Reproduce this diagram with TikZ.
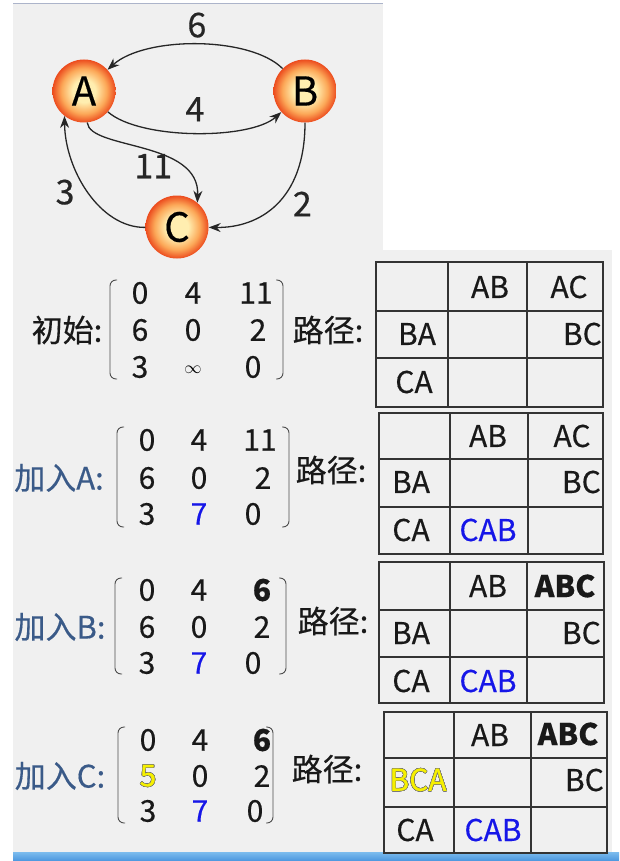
\documentclass[tikz,border=0pt]{standalone}
\usepackage{fontspec}
\setmainfont{Noto Sans CJK SC}[FakeBold=0.4]
\usepackage[copies]{contour}
\usetikzlibrary{calc,positioning,arrows.meta}

\definecolor{bggray}{RGB}{240,240,240}
\definecolor{topline}{RGB}{172,180,202}
\definecolor{tagblue}{RGB}{58,90,136}
\definecolor{numblue}{RGB}{22,22,232}
\definecolor{numyellow}{RGB}{246,240,0}
\definecolor{orbin}{RGB}{255,238,176}
\definecolor{orbmid}{RGB}{252,168,88}
\definecolor{orbout}{RGB}{236,76,30}
\definecolor{barlight}{RGB}{124,188,238}
\definecolor{bardark}{RGB}{74,150,222}
\contourlength{0.5pt}

\pgfdeclareradialshading{orb}{\pgfpoint{0bp}{0bp}}{color(0bp)=(orbin); color(9bp)=(orbin); color(18bp)=(orbmid); color(25bp)=(orbout); color(50bp)=(orbout)}

\tikzset{
  ball/.style={circle,minimum size=63pt,inner sep=0pt,shading=orb,font=\fontsize{40}{40}\selectfont},
  edge/.style={-{Stealth[length=12pt,width=9pt]},line width=1.3pt,black!85},
  wt/.style={inner sep=0pt,font=\fontsize{34}{34}\selectfont},
  num/.style={inner sep=0pt,text=black!90,font=\fontsize{30}{30}\selectfont},
  cell/.style={inner sep=0pt,text=black!90,font=\fontsize{30}{30}\selectfont},
  tag/.style={inner sep=0pt,text=tagblue,font=\fontsize{31}{31}\selectfont},
  brk/.style={line width=0.9pt,black!70,rounded corners=6pt},
  grid/.style={line width=1.3pt,black!80},
}

\begin{document}
\begin{tikzpicture}[x=1pt,y=-1pt]
    \useasboundingbox (0,0) rectangle (619,861);
    % background
    \fill[white] (0,0) rectangle (619,861);
    \fill[bggray] (13,3) rectangle (383,250);
    \fill[bggray] (13,250) rectangle (612,852);
    \draw[topline,line width=1pt] (13,3.5) -- (383,3.5);
    \shade[top color=barlight,bottom color=bardark] (13,852) rectangle (619,861);
    %
    % graph
    \node[ball] (A) at (84,91) {A};
    \node[ball] (B) at (305,91) {B};
    \node[ball] (C) at (177,227) {C};
    \draw[edge] (B) .. controls (250,36) and (145,36) .. (A) node[wt,midway,above=6pt] (w6) {6};
    \draw[edge] (A) .. controls (140,140) and (250,140) .. (B) node[wt,midway,above=11pt] (w4) {4};
    \draw[edge] (A) .. controls (90,150) and (200,140) .. (C.50) node[wt,midway,below=4pt,xshift=9pt] (w11) {11};
    \draw[edge] (B) .. controls (305,200) and (260,228) .. (C) node[wt,pos=0.45,right=11pt,yshift=-5pt] (w2) {2};
    \draw[edge] (C) .. controls (100,228) and (65,170) .. (A.232) node[wt,midway,left=13pt] (w3) {3};
    %
    % 初始
    \node[tag,text=black!90] (g1) at (67,330) {初始:};
    \foreach \v/\x/\y [count=\i] in {0/140/293, 4/193/293, 11/256/293, 6/140/330, 0/193/330, 2/258/330, 3/140/367, 0/253/367}
        \node[num] (m1-\i) at (\x,\y) {\v};
    \node[inner sep=0pt,font=\fontsize{17}{17}\selectfont] (m1-inf) at (193,370) {$\infty$};
    \draw[brk] (117,280) -- (110,280) -- (110,379) -- (117,379);
    \draw[brk] (276,280) -- (283,280) -- (283,379) -- (276,379);
    \node[tag,text=black!90] (p1) at (328,330) {路径:};
    \draw[grid] (376,262) rectangle (603,407);
    \draw[grid] (448,262) -- (448,407) (527,262) -- (527,407) (376,311) -- (603,311) (376,358) -- (603,358);
    \node[cell] (t1-ab) at (490,287) {AB};
    \node[cell] (t1-ac) at (569,287) {AC};
    \node[cell] (t1-ba) at (417,334) {BA};
    \node[cell,anchor=east] (t1-bc) at (602,334) {BC};
    \node[cell] (t1-ca) at (414,382) {CA};
    %
    % 加入A
    \node[tag] (g2) at (59,478) {加入A:};
    \foreach \v/\x/\y [count=\i] in {0/147/440, 4/199/440, 11/260/440, 6/147/478, 0/199/478, 2/263/478, 3/147/514, {\textcolor{numblue}{7}}/199/514, 0/253/514}
        \node[num] (m2-\i) at (\x,\y) {\v};
    \draw[brk] (124,427) -- (117,427) -- (117,527) -- (124,527);
    \draw[brk] (282,427) -- (289,427) -- (289,527) -- (282,527);
    \node[tag,text=black!90] (p2) at (331,470) {路径:};
    \draw[grid] (379,413) rectangle (603,554);
    \draw[grid] (450,413) -- (450,554) (528,413) -- (528,554) (379,459) -- (603,459) (379,507) -- (603,507);
    \node[cell] (t2-ab) at (488,436) {AB};
    \node[cell] (t2-ac) at (572,436) {AC};
    \node[cell] (t2-ba) at (411,482) {BA};
    \node[cell,anchor=east] (t2-bc) at (601,482) {BC};
    \node[cell] (t2-ca) at (411,530) {CA};
    \node[cell,text=numblue] (t2-cab) at (488,530) {CAB};
    %
    % 加入B
    \node[tag] (g3) at (60,627) {加入B:};
    \foreach \v/\x/\y [count=\i] in {0/147/590, 4/199/590, {\bfseries 6}/262/590, 6/147/627, 0/199/627, 2/262/627, 3/147/663, {\textcolor{numblue}{7}}/199/663, 0/253/663}
        \node[num] (m3-\i) at (\x,\y) {\v};
    \draw[brk] (122,578) -- (115,578) -- (115,674) -- (122,674);
    \draw[brk] (279,578) -- (286,578) -- (286,674) -- (279,674);
    \node[tag,text=black!90] (p3) at (333,621) {路径:};
    \draw[grid] (379,562) rectangle (604,703);
    \draw[grid] (450,562) -- (450,703) (527,562) -- (527,703) (379,610) -- (604,610) (379,657) -- (604,657);
    \node[cell] (t3-ab) at (488,586) {AB};
    \node[cell,font=\fontsize{30}{30}\selectfont\bfseries] (t3-abc) at (565,586) {ABC};
    \node[cell] (t3-ba) at (411,633) {BA};
    \node[cell,anchor=east] (t3-bc) at (601,633) {BC};
    \node[cell] (t3-ca) at (411,681) {CA};
    \node[cell,text=numblue] (t3-cab) at (488,681) {CAB};
    %
    % 加入C
    \node[tag] (g4) at (60,776) {加入C:};
    \foreach \v/\x/\y [count=\i] in {0/148/740, 4/200/740, {\bfseries 6}/262/740, {\textcolor{numyellow}{\contour{black!55}{5}}}/148/776, 0/200/776, 2/262/776, 3/148/811, {\textcolor{numblue}{7}}/200/811, 0/255/811}
        \node[num] (m4-\i) at (\x,\y) {\v};
    \draw[brk] (125,727) -- (118,727) -- (118,823) -- (125,823);
    \draw[brk] (266,727) -- (273,727) -- (273,823) -- (266,823);
    \node[tag,text=black!90] (p4) at (327,769) {路径:};
    \draw[grid] (384,712) rectangle (607,853);
    \draw[grid] (454,712) -- (454,853) (531,712) -- (531,853) (384,758) -- (607,758) (384,807) -- (607,807);
    \node[cell] (t4-ab) at (490,735) {AB};
    \node[cell,font=\fontsize{30}{30}\selectfont\bfseries] (t4-abc) at (568,734) {ABC};
    \node[cell,text=numyellow] (t4-bca) at (418,780) {\contour{black!55}{BCA}};
    \node[cell,anchor=east] (t4-bc) at (604,780) {BC};
    \node[cell] (t4-ca) at (415,830) {CA};
    \node[cell,text=numblue] (t4-cab) at (493,830) {CAB};
\end{tikzpicture}
\end{document}
